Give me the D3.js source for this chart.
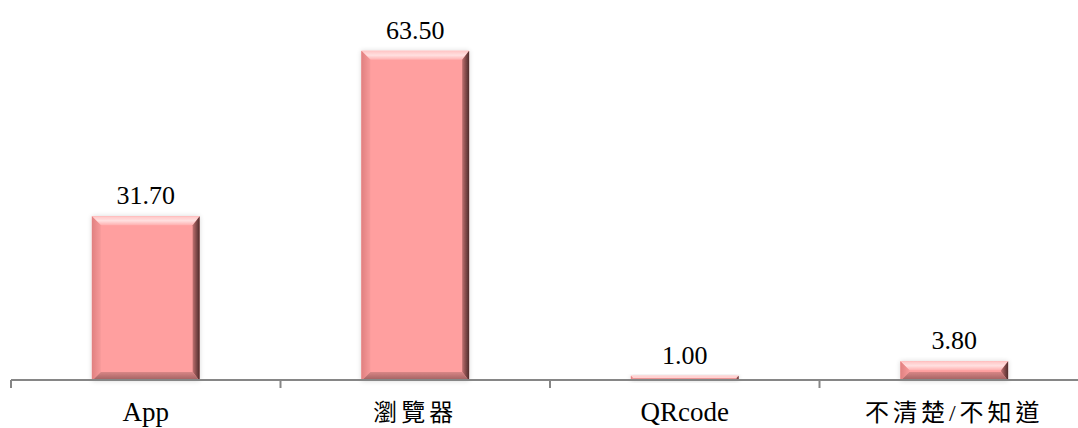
<!DOCTYPE html>
<html><head><meta charset="utf-8">
<script src="https://cdn.jsdelivr.net/npm/d3@7"></script>
<style>body{margin:0;background:#fff}svg{display:block}</style>
</head><body>
<script>
const categories = ["App", "瀏覽器", "QRcode", "不清楚/不知道"];
const values = [31.70, 63.50, 1.00, 3.80];
const labels = ["31.70", "63.50", "1.00", "3.80"];

const W = 1078, H = 428;
const svg = d3.select("body").append("svg").attr("width", W).attr("height", H);
const defs = svg.append("defs");

const x = d3.scaleBand().domain(categories).range([11, 1089]).paddingInner(0.6).paddingOuter(0.3);
const y = d3.scaleLinear().domain([0, 70]).range([381, 17]);

function grad(id, x2, y2, stops) {
  const g = defs.append("linearGradient").attr("id", id)
    .attr("x1", 0).attr("y1", 0).attr("x2", x2).attr("y2", y2);
  stops.forEach(s => g.append("stop").attr("offset", s[0]).attr("stop-color", s[1]));
}
grad("gTop", 0, 1, [[0, "#ffc4c4"], [0.5, "#ffe0e0"], [1, "#ffb0b0"]]);
grad("gLeft", 1, 0, [[0, "#e08080"], [1, "#f79a9a"]]);
grad("gRight", 1, 0, [[0, "#c07070"], [0.6, "#7a4545"], [1, "#4e2c2c"]]);
grad("gBot", 0, 1, [[0, "#d88686"], [1, "#9a5c5c"]]);
const flt = defs.append("filter").attr("id", "sh").attr("x", "-20%").attr("y", "-20%").attr("width", "140%").attr("height", "140%");
flt.append("feGaussianBlur").attr("in", "SourceAlpha").attr("stdDeviation", 2.5).attr("result", "b");
flt.append("feComponentTransfer").attr("in", "b").attr("result", "o2")
  .append("feFuncA").attr("type", "linear").attr("slope", 0.15);
const fm = flt.append("feMerge");
fm.append("feMergeNode").attr("in", "o2");
fm.append("feMergeNode").attr("in", "SourceGraphic");

const data = categories.map((c, i) => ({c, v: values[i], l: labels[i]}));

const bars = svg.append("g").selectAll("g").data(data).join("g").attr("filter", "url(#sh)");
bars.each(function(d) {
  const g = d3.select(this);
  const x0 = x(d.c), x1 = x0 + x.bandwidth(), y0 = y(d.v), y1 = y(0);
  const h = y1 - y0;
  const b = Math.min(9, h / 2);
  const br = Math.min(7, h / 2);
  g.append("rect").attr("x", x0).attr("y", y0).attr("width", x1 - x0).attr("height", h).attr("fill", "#ff9f9f");
  const pts = a => a.map(p => p.join(",")).join(" ");
  g.append("polygon").attr("points", pts([[x0, y0], [x1, y0], [x1 - br, y0 + b], [x0 + b, y0 + b]])).attr("fill", "url(#gTop)");
  g.append("polygon").attr("points", pts([[x0, y0], [x0 + b, y0 + b], [x0 + b, y1 - b], [x0, y1]])).attr("fill", "url(#gLeft)");
  g.append("polygon").attr("points", pts([[x1, y0], [x1, y1], [x1 - br, y1 - b], [x1 - br, y0 + b]])).attr("fill", "url(#gRight)");
  g.append("polygon").attr("points", pts([[x0, y1], [x0 + b, y1 - b], [x1 - br, y1 - b], [x1, y1]])).attr("fill", "url(#gBot)");
});

// axis
const axisG = svg.append("g").attr("transform", "translate(0,380)");
axisG.append("line").attr("x1", 11).attr("x2", W).attr("y1", 0).attr("y2", 0).attr("stroke", "#868686").attr("stroke-width", 2);
const bounds = categories.map((c, i) => 11 + i * x.step());
axisG.selectAll("line.t").data(bounds).join("line").attr("class", "t")
  .attr("x1", d => d).attr("x2", d => d).attr("y1", 0).attr("y2", 8)
  .attr("stroke", "#868686").attr("stroke-width", 2);

const isCJK = s => /[\u4e00-\u9fff]/.test(s);
svg.append("g").selectAll("text").data(data).join("text")
  .attr("x", d => x(d.c) + x.bandwidth() / 2)
  .attr("y", 421)
  .attr("text-anchor", "middle")
  .attr("font-family", "'Liberation Serif', 'Noto Sans CJK TC', serif")
  .attr("font-size", d => isCJK(d.c) ? 24 : 27)
  .attr("letter-spacing", d => isCJK(d.c) ? 4 : 0)
  .attr("fill", "#000")
  .text(d => d.c);

svg.append("g").selectAll("text").data(data).join("text")
  .attr("x", d => x(d.c) + x.bandwidth() / 2)
  .attr("y", d => y(d.v) - 12)
  .attr("text-anchor", "middle")
  .attr("font-family", "'Liberation Serif', 'Times New Roman', serif")
  .attr("font-size", 26)
  .attr("fill", "#000")
  .text(d => d.l);
</script>
</body></html>
